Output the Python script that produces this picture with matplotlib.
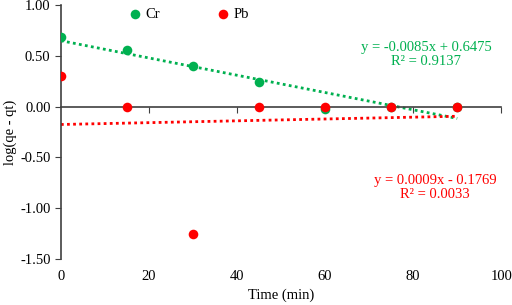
import numpy as np
import matplotlib.pyplot as plt
from matplotlib.ticker import FormatStrFormatter

plt.rcParams['font.family'] = ['Liberation Serif', 'DejaVu Serif']

time = [0, 15, 30, 45, 60, 75, 90]
cr = [0.68, 0.56, 0.40, 0.24, -0.02, 0.00, 0.00]
pb = [0.30, 0.00, -1.25, 0.00, 0.00, 0.00, 0.00]

# trendline coefficients (slope, intercept) from the chart
cr_fit = (-0.0085, 0.6475)
pb_fit = (0.0009, -0.1769)

green = '#00B050'
red = '#FF0000'

fig = plt.figure(figsize=(5.12, 3.05), dpi=100)
ax = fig.add_axes([0.119, 0.151, 0.860, 0.833])

ax.scatter(time, cr, s=48, color=green, zorder=3, label='Cr', linewidths=0)
ax.scatter(time, pb, s=48, color=red, zorder=4, label='Pb', linewidths=0)

xf = np.array([min(time), max(time)])
ax.plot(xf, cr_fit[0] * xf + cr_fit[1], color=green, ls=(0, (1, 1.2)), lw=2, zorder=2)
ax.plot(xf, pb_fit[0] * xf + pb_fit[1], color=red, ls=(0, (1, 1.2)), lw=2, zorder=2)

ax.set_xlim(0, 100)
ax.set_ylim(-1.5, 1.0)
ax.set_yticks(np.arange(-1.5, 1.01, 0.5))
ax.yaxis.set_major_formatter(FormatStrFormatter('%.2f'))
ax.set_xticks([20, 40, 60, 80, 100])

ax.spines['top'].set_visible(False)
ax.spines['right'].set_visible(False)
ax.spines['bottom'].set_position(('data', 0))
for s in ['left', 'bottom']:
    ax.spines[s].set_color('#404040')
    ax.spines[s].set_linewidth(1.2)
ax.tick_params(axis='x', direction='out', length=4, color='#404040', labelbottom=False)
ax.tick_params(axis='y', direction='out', length=4, color='#404040', labelsize=10.5)

sec = ax.secondary_xaxis(0)
sec.set_xticks([0, 20, 40, 60, 80, 100])
sec.spines['bottom'].set_visible(False)
sec.tick_params(length=0, labelsize=10.5, pad=8)
sec.set_xlabel('Time (min)', fontsize=10.5, labelpad=4)

ax.set_ylabel('log(qe - qt)', fontsize=10.5, labelpad=2)

ax.legend(loc='upper left', bbox_to_anchor=(0.121, 1.04), ncol=2, frameon=False,
          fontsize=10.5, handlelength=1.0, handletextpad=0.25, columnspacing=3.8)

ax.text(83, 0.51, 'y = -0.0085x + 0.6475\nR² = 0.9137', color=green,
        ha='center', va='center', fontsize=10.5, linespacing=1.1)
ax.text(85, -0.80, 'y = 0.0009x - 0.1769\nR² = 0.0033', color=red,
        ha='center', va='center', fontsize=10.5, linespacing=1.1)

fig.savefig('out.png', dpi=100)
